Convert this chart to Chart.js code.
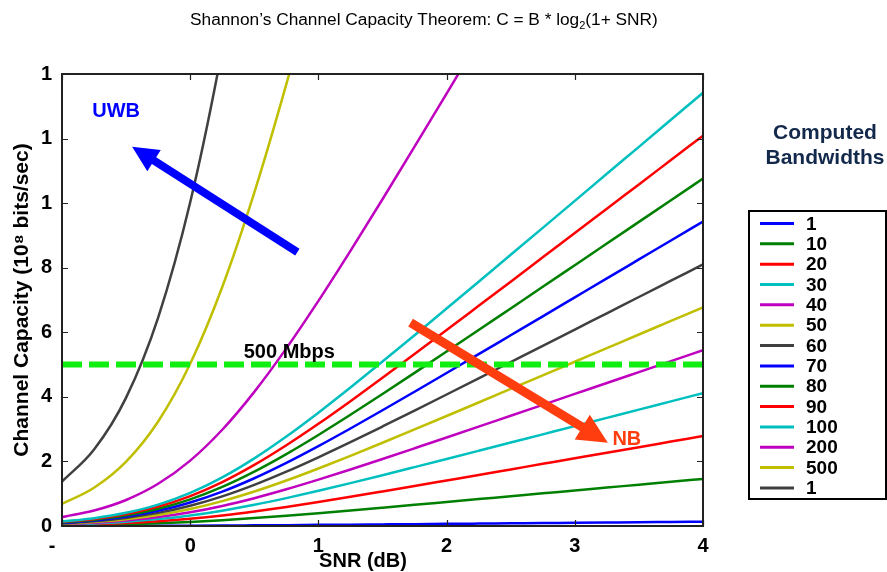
<!DOCTYPE html>
<html><head><meta charset="utf-8">
<script src="https://cdn.jsdelivr.net/npm/chart.js@4/dist/chart.umd.min.js"></script>
<style>html,body{margin:0;padding:0;background:#fff;overflow:hidden}#wrap{width:887px;height:572px;position:relative}</style>
</head><body><div id="wrap"><canvas id="c" width="887" height="572"></canvas></div>
<script>
// ---------- data ----------
const snrDb = [-1,-0.75,-0.5,-0.25,0,0.25,0.5,0.75,1,1.25,1.5,1.75,2,2.25,2.5,2.75,3,3.25,3.5,3.75,4];
const xTickLabels = ['-','0','1','2','3','4'];
const yTickLabels = ['0','2','4','6','8','1','1','1'];
const bandwidthLabels = ['1','10','20','30','40','50','60','70','80','90','100','200','500','1'];

const cap1    = [0.001,0.002,0.004,0.006,0.010,0.015,0.021,0.027,0.035,0.042,0.050,0.058,0.067,0.075,0.083,0.091,0.100,0.108,0.116,0.125,0.133];
const cap10   = [0.014,0.030,0.053,0.084,0.126,0.180,0.245,0.318,0.398,0.482,0.568,0.655,0.744,0.833,0.922,1.011,1.101,1.190,1.280,1.369,1.459];
const cap20   = [0.028,0.054,0.092,0.148,0.226,0.327,0.451,0.591,0.744,0.905,1.071,1.239,1.410,1.581,1.753,1.925,2.097,2.270,2.442,2.615,2.788];
const cap30   = [0.041,0.077,0.132,0.213,0.326,0.475,0.656,0.864,1.090,1.328,1.573,1.823,2.075,2.329,2.584,2.839,3.094,3.350,3.605,3.861,4.116];
const cap40   = [0.055,0.101,0.172,0.277,0.426,0.622,0.862,1.137,1.436,1.751,2.076,2.407,2.741,3.077,3.415,3.753,4.091,4.429,4.768,5.107,5.445];
const cap50   = [0.069,0.125,0.211,0.341,0.526,0.770,1.068,1.409,1.782,2.174,2.579,2.991,3.407,3.826,4.246,4.666,5.088,5.509,5.931,6.352,6.774];
const cap60   = [0.083,0.148,0.251,0.406,0.626,0.917,1.273,1.682,2.128,2.597,3.082,3.575,4.073,4.574,5.077,5.580,6.084,6.589,7.093,7.598,8.103];
const cap70   = [0.096,0.172,0.290,0.470,0.726,1.064,1.479,1.955,2.474,3.020,3.584,4.159,4.739,5.322,5.908,6.494,7.081,7.668,8.256,8.844,9.431];
const cap80   = [0.110,0.195,0.330,0.534,0.826,1.212,1.685,2.228,2.820,3.444,4.087,4.743,5.405,6.070,6.739,7.408,8.078,8.748,9.419,10.090,10.760];
const cap90   = [0.124,0.219,0.370,0.599,0.926,1.359,1.891,2.500,3.165,3.867,4.590,5.326,6.070,6.819,7.569,8.322,9.074,9.828,10.581,11.335,12.089];
const cap100  = [0.138,0.243,0.409,0.663,1.026,1.507,2.096,2.773,3.511,4.290,5.093,5.910,6.736,7.567,8.400,9.235,10.071,10.908,11.744,12.581,13.418];
const cap200  = [0.275,0.479,0.806,1.307,2.026,2.981,4.154,5.501,6.971,8.521,10.121,11.749,13.394,15.049,null,null,null,null,null,null,null];
const cap500  = [0.688,1.187,1.995,3.238,5.026,7.404,10.326,13.684,17.349,null,null,null,null,null,null,null,null,null,null,null,null];
const cap1000 = [1.375,2.368,3.977,6.457,10.026,14.775,20.610,null,null,null,null,null,null,null,null,null,null,null,null,null,null];

const thresholdSnr = [-1, 4];
const thresholdCap = [5, 5];

// ---------- styles ----------
const seriesValues = [cap1,cap10,cap20,cap30,cap40,cap50,cap60,cap70,cap80,cap90,cap100,cap200,cap500,cap1000];
const seriesColors = ['#0000ff','#008000','#ff0000','#00bfbf','#bf00bf','#bfbf00','#404040',
                      '#0000ff','#008000','#ff0000','#00bfbf','#bf00bf','#bfbf00','#404040'];
const FONT = "'Liberation Sans', Arial, Helvetica, sans-serif";
Chart.defaults.font.family = FONT;
Chart.defaults.color = '#000';

const datasets = seriesValues.map((vals, i) => ({
  label: bandwidthLabels[i],
  data: snrDb.map((s, j) => ({x: s, y: vals[j]})),
  borderColor: seriesColors[i],
  backgroundColor: seriesColors[i],
  borderWidth: 2.5,
  pointRadius: 0,
  cubicInterpolationMode: 'monotone',
  fill: false,
  isBandwidth: true,
  order: -i
}));
datasets.push({
  label: '500 Mbps',
  data: thresholdSnr.map((s, j) => ({x: s, y: thresholdCap[j]})),
  borderColor: '#11ee11',
  borderWidth: 6,
  borderDash: [20, 7],
  pointRadius: 0,
  fill: false,
  order: -100
});

// annotation placement (data coordinates)
const annot = {
  uwbArrow: {from: [0.836, 8.48], to: [-0.453, 11.75], color: '#0000ff', shaft: 8, headLen: 26, headW: 25},
  nbArrow:  {from: [1.719, 6.30], to: [3.258, 2.58], color: '#ff3d0f', shaft: 9, headLen: 30, headW: 29},
  uwbText:  {at: [-0.578, 12.85], text: 'UWB', color: '#0000ff'},
  nbText:   {at: [3.406, 2.67], text: 'NB', color: '#ff3d0f'},
  mbpsText: {at: [0.773, 5.37], text: '500 Mbps', color: '#000'}
};

function arrow(ctx, x1, y1, x2, y2, sw, hl, hw, color) {
  const dx = x2 - x1, dy = y2 - y1, L = Math.hypot(dx, dy);
  const ux = dx / L, uy = dy / L, nx = -uy, ny = ux;
  const bx = x2 - ux * hl, by = y2 - uy * hl;
  ctx.beginPath();
  ctx.moveTo(x1 + nx * sw / 2, y1 + ny * sw / 2);
  ctx.lineTo(bx + nx * sw / 2, by + ny * sw / 2);
  ctx.lineTo(bx + nx * hw / 2, by + ny * hw / 2);
  ctx.lineTo(x2, y2);
  ctx.lineTo(bx - nx * hw / 2, by - ny * hw / 2);
  ctx.lineTo(bx - nx * sw / 2, by - ny * sw / 2);
  ctx.lineTo(x1 - nx * sw / 2, y1 - ny * sw / 2);
  ctx.closePath();
  ctx.fillStyle = color;
  ctx.fill();
}

const deco = {
  id: 'deco',
  afterDatasetsDraw(chart) {
    const {ctx, chartArea: a, scales: {x, y}} = chart;
    ctx.save();
    // frame
    ctx.strokeStyle = '#222';
    ctx.lineWidth = 2;
    ctx.strokeRect(a.left, a.top, a.right - a.left, a.bottom - a.top);
    // inward ticks on all sides
    ctx.lineWidth = 1.2;
    ctx.beginPath();
    x.ticks.forEach(t => {
      const px = Math.round(x.getPixelForValue(t.value)) + 0.5;
      ctx.moveTo(px, a.bottom); ctx.lineTo(px, a.bottom - 6);
      ctx.moveTo(px, a.top); ctx.lineTo(px, a.top + 6);
    });
    y.ticks.forEach(t => {
      const py = Math.round(y.getPixelForValue(t.value)) + 0.5;
      ctx.moveTo(a.left, py); ctx.lineTo(a.left + 6, py);
      ctx.moveTo(a.right, py); ctx.lineTo(a.right - 6, py);
    });
    ctx.stroke();
    // arrows
    [annot.uwbArrow, annot.nbArrow].forEach(A => {
      arrow(ctx, x.getPixelForValue(A.from[0]), y.getPixelForValue(A.from[1]),
                 x.getPixelForValue(A.to[0]), y.getPixelForValue(A.to[1]),
                 A.shaft, A.headLen, A.headW, A.color);
    });
    // texts
    ctx.textAlign = 'center';
    ctx.textBaseline = 'middle';
    ctx.font = 'bold 20px ' + FONT;
    [annot.uwbText, annot.nbText, annot.mbpsText].forEach(T => {
      ctx.fillStyle = T.color;
      ctx.fillText(T.text, x.getPixelForValue(T.at[0]), y.getPixelForValue(T.at[1]));
    });
    ctx.restore();
  },
  afterDraw(chart) {
    const {ctx} = chart;
    ctx.save();
    // title
    ctx.fillStyle = '#000';
    ctx.textBaseline = 'alphabetic';
    ctx.textAlign = 'left';
    ctx.font = '17.3px ' + FONT;
    let tx = 190;
    const t1 = 'Shannon\u2019s Channel Capacity Theorem: C = B * log';
    ctx.fillText(t1, tx, 25); tx += ctx.measureText(t1).width;
    ctx.font = '11px ' + FONT;
    ctx.fillText('2', tx, 29); tx += ctx.measureText('2').width;
    ctx.font = '17.3px ' + FONT;
    ctx.fillText('(1+ SNR)', tx, 25);
    // x axis title
    ctx.font = 'bold 20px ' + FONT;
    ctx.textAlign = 'center';
    ctx.textBaseline = 'middle';
    ctx.fillText('SNR (dB)', 363, 561);
    // legend title
    ctx.font = 'bold 21px ' + FONT;
    ctx.fillStyle = '#13294b';
    ctx.fillText('Computed', 825, 133);
    ctx.fillText('Bandwidths', 825, 158);
    // legend box
    ctx.strokeStyle = '#000';
    ctx.lineWidth = 2;
    ctx.strokeRect(749, 211, 137, 288);
    const items = chart.data.datasets.filter(d => d.isBandwidth);
    ctx.font = 'bold 19px ' + FONT;
    ctx.textAlign = 'left';
    items.forEach((d, i) => {
      const yy = 223.5 + i * 20.34;
      ctx.strokeStyle = d.borderColor;
      ctx.lineWidth = 3;
      ctx.beginPath(); ctx.moveTo(760, yy); ctx.lineTo(794, yy); ctx.stroke();
      ctx.fillStyle = '#000';
      ctx.fillText(d.label, 806, yy + 1);
    });
    ctx.restore();
  }
};

new Chart(document.getElementById('c'), {
  type: 'line',
  data: {datasets},
  plugins: [deco],
  options: {
    responsive: false,
    animation: false,
    events: [],
    layout: {padding: {top: 74, right: 184, left: 0, bottom: 0}},
    plugins: {legend: {display: false}, tooltip: {enabled: false}, title: {display: false}},
    scales: {
      x: {
        type: 'linear', min: -1, max: 4,
        afterFit: s => { s.height = 46; },
        grid: {display: false, drawTicks: false}, border: {display: false},
        ticks: {stepSize: 1, autoSkip: false, maxRotation: 0, padding: 8,
                font: {size: 20, weight: 'bold'}, color: '#000',
                callback: (v) => {
                  const lab = xTickLabels[Math.round(v) + 1];
                  return v === -1 ? lab + '\u2003' : lab;
                }}
      },
      y: {
        type: 'linear', min: 0, max: 14,
        afterFit: s => { s.width = 62; },
        grid: {display: false, drawTicks: false}, border: {display: false},
        ticks: {stepSize: 2, autoSkip: false, padding: 10,
                font: {size: 20, weight: 'bold'}, color: '#000',
                callback: (v) => yTickLabels[Math.round(v / 2)]},
        title: {display: true, text: 'Channel Capacity (10\u2078 bits/sec)',
                font: {size: 21, weight: 'bold'}, color: '#000', padding: {top: 10, bottom: 0}}
      }
    }
  }
});
</script></body></html>
